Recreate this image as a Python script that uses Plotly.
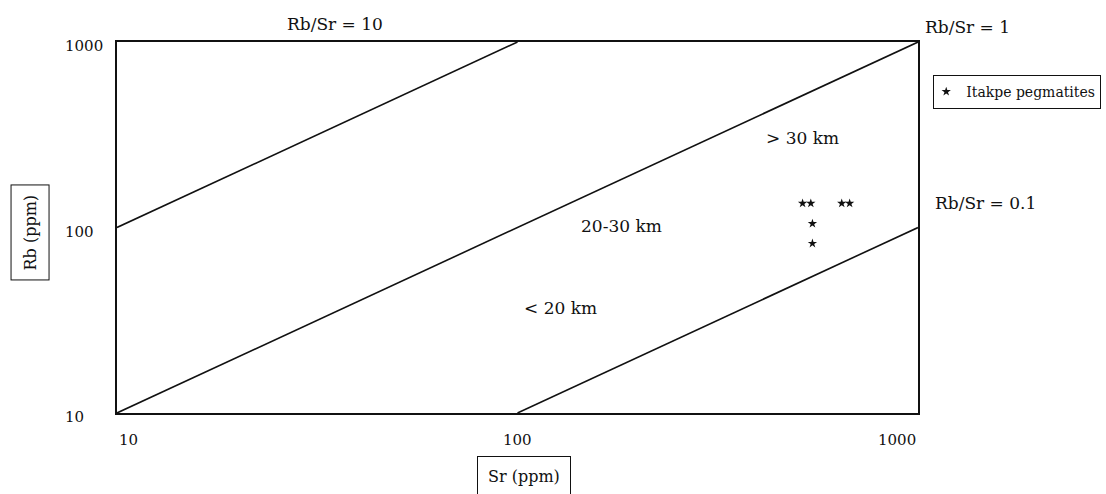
import math
import plotly.graph_objects as go

# Itakpe pegmatite analyses (ppm)
sr_ppm = [515, 540, 645, 675, 545, 545]
rb_ppm = [135, 135, 135, 135, 105, 82]

# Constant Rb/Sr ratio lines: endpoints on the frame
ratio_names = ["Rb/Sr = 10", "Rb/Sr = 1", "Rb/Sr = 0.1"]
ratio_sr = [[10, 100], [10, 1000], [100, 1000]]
ratio_rb = [[100, 1000], [10, 1000], [10, 100]]

# Crustal depth fields
zone_labels = ["> 30 km", "20-30 km", "< 20 km"]

# Axis tick labels
tick_vals = [10, 100, 1000]
x_tick_text = ["10", "100", "1000"]
y_tick_text = ["10", "100", "1000"]

FONT = "DejaVu Serif"
INK = "#111111"

fig = go.Figure()

for sx, ry in zip(ratio_sr, ratio_rb):
    fig.add_trace(go.Scatter(
        x=sx, y=ry, mode="lines",
        line=dict(color=INK, width=1.6),
        showlegend=False, hoverinfo="skip",
    ))

fig.add_trace(go.Scatter(
    x=sr_ppm, y=rb_ppm, mode="markers",
    name="Itakpe pegmatites",
    marker=dict(symbol="star", size=7, color=INK),
))

axis_common = dict(
    type="log", showgrid=False, zeroline=False,
    showline=True, linecolor=INK, linewidth=1.5, mirror=True,
    ticks="", showticklabels=False, automargin=False,
)
fig.update_xaxes(range=[1, 3], **axis_common)
fig.update_yaxes(range=[1, 3], **axis_common)

ann = []
# x tick labels
for v, t, anc in zip(tick_vals, x_tick_text, ["left", "center", "right"]):
    ann.append(dict(x=math.log10(v), xref="x", y=0, yref="paper",
                    text=t, showarrow=False, xanchor=anc, yanchor="middle",
                    yshift=-27, font=dict(family=FONT, size=15, color=INK)))
# y tick labels
for v, t in zip(tick_vals, y_tick_text):
    ann.append(dict(x=-0.068, xref="paper", y=math.log10(v), yref="y",
                    text=t, showarrow=False, xanchor="left", yanchor="middle",
                    yshift=-4, font=dict(family=FONT, size=15, color=INK)))

# ratio line labels
ann.append(dict(x=0.272, y=1.049, xref="paper", yref="paper", text=ratio_names[0],
                showarrow=False, xanchor="center", yanchor="middle",
                font=dict(family=FONT, size=17, color=INK)))
ann.append(dict(x=1.006, y=1.040, xref="paper", yref="paper", text=ratio_names[1],
                showarrow=False, xanchor="left", yanchor="middle",
                font=dict(family=FONT, size=17, color=INK)))
ann.append(dict(x=1.019, y=0.566, xref="paper", yref="paper", text=ratio_names[2],
                showarrow=False, xanchor="left", yanchor="middle",
                font=dict(family=FONT, size=17, color=INK)))

# depth field labels
for (px, py), t in zip([(0.856, 0.741), (0.630, 0.504), (0.554, 0.283)], zone_labels):
    ann.append(dict(x=px, y=py, xref="paper", yref="paper", text=t,
                    showarrow=False, xanchor="center", yanchor="middle",
                    font=dict(family=FONT, size=17, color=INK)))

# boxed axis titles
ann.append(dict(x=-0.108, y=0.488, xref="paper", yref="paper", text="Rb (ppm)",
                textangle=-90, showarrow=False, xanchor="center", yanchor="middle",
                bordercolor=INK, borderwidth=1, borderpad=9,
                font=dict(family=FONT, size=16, color=INK)))
ann.append(dict(x=0.508, y=-0.170, xref="paper", yref="paper", text="Sr (ppm)",
                showarrow=False, xanchor="center", yanchor="middle",
                bordercolor=INK, borderwidth=1, borderpad=10,
                font=dict(family=FONT, size=16, color=INK)))

fig.update_layout(
    width=1106, height=494,
    margin=dict(l=117, r=188, t=42, b=81, autoexpand=False),
    paper_bgcolor="white", plot_bgcolor="white",
    annotations=ann,
    showlegend=True,
    legend=dict(x=1.019, y=0.911, xanchor="left", yanchor="top",
                bordercolor=INK, borderwidth=1, bgcolor="white",
                itemwidth=30, indentation=-8,
                font=dict(family=FONT, size=14, color=INK)),
)

fig.write_html("out.html")
